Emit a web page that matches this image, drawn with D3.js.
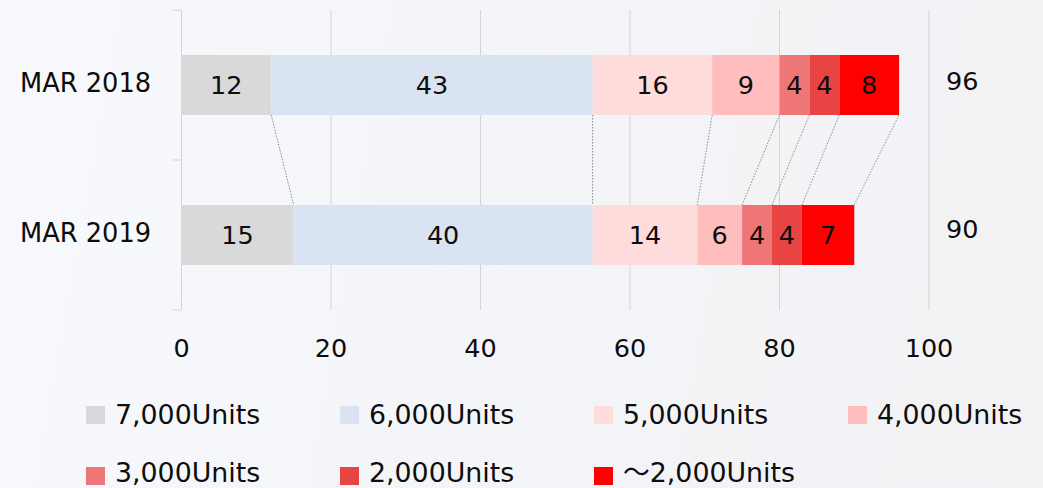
<!DOCTYPE html>
<html>
<head>
<meta charset="utf-8">
<script src="https://cdn.jsdelivr.net/npm/d3@7"></script>
<style>
  html, body { margin: 0; padding: 0; }
  body { width: 1043px; height: 488px; overflow: hidden;
         background: linear-gradient(100deg, #f7f9fc 0%, #f4f5f8 45%, #f2f2f5 100%); }
  svg text { font-family: "DejaVu Sans", Verdana, sans-serif; fill: #0d0d0d; }
</style>
</head>
<body>
<div id="chart"></div>
<script>
const CATEGORIES = ['MAR 2018', 'MAR 2019'];
const SERIES = ['7,000Units', '6,000Units', '5,000Units', '4,000Units', '3,000Units', '2,000Units', '～2,000Units'];
const VALUES_2018 = [12, 43, 16, 9, 4, 4, 8];
const VALUES_2019 = [15, 40, 14, 6, 4, 4, 7];
const TOTALS = [96, 90];
const X_TICKS = [0, 20, 40, 60, 80, 100];
const COLORS = ['#d9d9d9', '#dae3f1', '#ffdcdc', '#ffbdbd', '#ef7676', '#e84444', '#ff0000'];

const W = 1043, H = 488;
const rows = [VALUES_2018, VALUES_2019];

const svg = d3.select('#chart').append('svg')
  .attr('width', W).attr('height', H);

const x = d3.scaleLinear().domain([0, 100]).range([181.5, 929]);
const y = d3.scaleBand().domain(CATEGORIES).range([10, 310])
  .paddingInner(0.6).paddingOuter(0.3);

// grille verticale
svg.append('g')
  .selectAll('line')
  .data(X_TICKS.slice(1))
  .join('line')
  .attr('x1', d => x(d)).attr('x2', d => x(d))
  .attr('y1', 10).attr('y2', 310)
  .attr('stroke', '#d4d4d6').attr('stroke-width', 1);

// axe des catégories (ligne + graduations aux limites des bandes)
const axisG = svg.append('g');
axisG.append('line')
  .attr('x1', x(0)).attr('x2', x(0)).attr('y1', 10).attr('y2', 310)
  .attr('stroke', '#d4d4d6');
axisG.selectAll('line.tick')
  .data([10, 160, 310])
  .join('line').attr('class', 'tick')
  .attr('x1', x(0) - 9).attr('x2', x(0))
  .attr('y1', d => d).attr('y2', d => d)
  .attr('stroke', '#d4d4d6');

// empilement
const stacked = rows.map(vals => {
  let acc = 0;
  return vals.map((v, i) => { const s = acc; acc += v; return { i, v, x0: s, x1: acc }; });
});

// lignes pointillées entre les barres
const links = stacked[0].map((d, i) => ({ a: d.x1, b: stacked[1][i].x1 }));
svg.append('g')
  .selectAll('line')
  .data(links)
  .join('line')
  .attr('x1', d => x(d.a)).attr('y1', y(CATEGORIES[0]) + y.bandwidth())
  .attr('x2', d => x(d.b)).attr('y2', y(CATEGORIES[1]))
  .attr('stroke', '#8a8a8a').attr('stroke-width', 1)
  .attr('stroke-dasharray', '1.5,1.5');

// barres
stacked.forEach((segs, r) => {
  const g = svg.append('g');
  const y0 = y(CATEGORIES[r]);
  g.selectAll('rect')
    .data(segs)
    .join('rect')
    .attr('x', d => x(d.x0))
    .attr('width', d => x(d.x1) - x(d.x0))
    .attr('y', y0).attr('height', y.bandwidth())
    .attr('fill', d => COLORS[d.i]);
  g.selectAll('text')
    .data(segs)
    .join('text')
    .attr('x', d => (x(d.x0) + x(d.x1)) / 2)
    .attr('y', y0 + y.bandwidth() / 2 + 9)
    .attr('text-anchor', 'middle')
    .attr('font-size', 25.5)
    .text(d => d.v);
});

// libellés des catégories
svg.append('g')
  .selectAll('text')
  .data(CATEGORIES)
  .join('text')
  .attr('x', 20)
  .attr('y', d => y(d) + y.bandwidth() / 2 + 6.5)
  .attr('font-size', 25.7)
  .text(d => d);

// totaux à droite
svg.append('g')
  .selectAll('text')
  .data(TOTALS)
  .join('text')
  .attr('x', x(100) + 17)
  .attr('y', (d, i) => y(CATEGORIES[i]) + y.bandwidth() / 2 + (i === 0 ? 4.5 : 2.5))
  .attr('font-size', 25.5)
  .text(d => d);

// graduations de l'axe x
svg.append('g')
  .selectAll('text')
  .data(X_TICKS)
  .join('text')
  .attr('x', d => x(d))
  .attr('y', 357)
  .attr('text-anchor', 'middle')
  .attr('font-size', 25.5)
  .text(d => d);

// légende
const legend = svg.append('g');
const item = legend.selectAll('g')
  .data(SERIES)
  .join('g')
  .attr('transform', (d, i) => `translate(${86 + (i % 4) * 254},${406 + Math.floor(i / 4) * 61})`);
item.append('rect')
  .attr('width', 19).attr('height', 18)
  .attr('fill', (d, i) => COLORS[i]);
const lt = item.append('text')
  .attr('x', 29).attr('y', (d, i) => i < 4 ? 18 : 15)
  .attr('font-size', 26.8);
// le tilde pleine chasse vient d'une police CJK
lt.each(function(d) {
  const t = d3.select(this);
  if (d.startsWith('～')) {
    t.append('tspan').style('font-family', '"Noto Sans CJK JP", sans-serif').text('～');
    t.append('tspan').text(d.slice(1));
  } else {
    t.text(d);
  }
});
</script>
</body>
</html>
